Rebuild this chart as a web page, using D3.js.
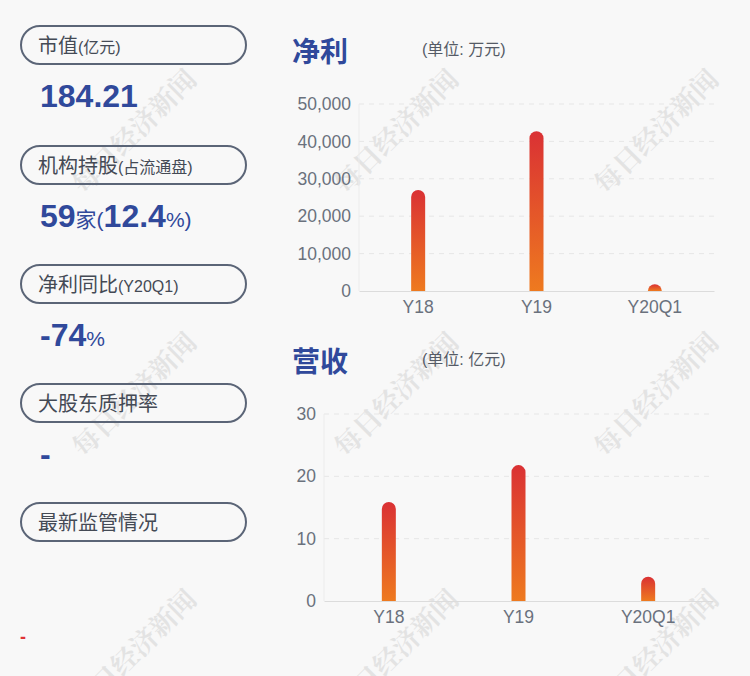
<!DOCTYPE html>
<html lang="zh">
<head>
<meta charset="utf-8">
<title>净利 / 营收</title>
<script src="https://cdn.jsdelivr.net/npm/d3@7"></script>
<style>
  body { margin: 0; background: #f8f8f8; }
  svg { display: block; font-family: "Liberation Sans", Arial, "Noto Sans CJK SC", sans-serif; }
</style>
</head>
<body>
<script>
  var w = 750, h = 676;

  // data
  var categories = ["Y18", "Y19", "Y20Q1"];
  var profitValues = [27000, 42700, 1800];      // 净利, 万元
  var profitTicks = [0, 10000, 20000, 30000, 40000, 50000];
  var revenueValues = [15.9, 21.8, 3.9];        // 营收, 亿元
  var revenueTicks = [0, 10, 20, 30];

  var pillLabels = [
    ["市值", "(亿元)"],
    ["机构持股", "(占流通盘)"],
    ["净利同比", "(Y20Q1)"],
    ["大股东质押率", ""],
    ["最新监管情况", ""]
  ];

  var blue = "#30499b";
  var svg = d3.select("body").append("svg")
    .attr("width", w).attr("height", h);

  svg.append("rect").attr("width", w).attr("height", h).attr("fill", "#f8f8f8");

  var defs = svg.append("defs");
  var grad = defs.append("linearGradient")
    .attr("id", "barGrad").attr("x1", 0).attr("y1", 0).attr("x2", 0).attr("y2", 1);
  grad.append("stop").attr("offset", "0%").attr("stop-color", "#da3134");
  grad.append("stop").attr("offset", "100%").attr("stop-color", "#ee7a1f");

  // watermark layer (bottom row runs off the edge, as in the original)
  var wm = svg.append("g");
  [130, 393, 650].forEach(function(cy) {
    [133, 395, 655].forEach(function(cx) {
      wm.append("text")
        .attr("transform", "translate(" + cx + "," + cy + ") rotate(-45)")
        .attr("text-anchor", "middle")
        .attr("dominant-baseline", "central")
        .attr("font-size", 27)
        .attr("font-weight", "bold")
        .attr("font-family", "'Noto Serif CJK SC','Noto Sans CJK SC',sans-serif")
        .attr("fill", "#000")
        .attr("opacity", 0.08)
        .text("每日经济新闻");
    });
  });

  // left pills
  var pillTop = [26, 146, 265, 384, 503];
  pillLabels.forEach(function(p, i) {
    var g = svg.append("g");
    g.append("rect")
      .attr("x", 21).attr("y", pillTop[i])
      .attr("width", 225).attr("height", 38)
      .attr("rx", 19).attr("ry", 19)
      .attr("fill", "none").attr("stroke", "#5b6577").attr("stroke-width", 2);
    var t = g.append("text")
      .attr("x", 38).attr("y", pillTop[i] + 27)
      .attr("fill", "#444a55");
    t.append("tspan").attr("font-size", 20).text(p[0]);
    if (p[1]) t.append("tspan").attr("font-size", 16).text(p[1]);
  });

  // values under pills
  function valueText(y, parts) {
    var t = svg.append("text").attr("x", 40).attr("y", y).attr("fill", blue);
    parts.forEach(function(p) {
      t.append("tspan")
        .attr("font-size", p[1])
        .attr("font-weight", p[2] ? "bold" : "normal")
        .text(p[0]);
    });
  }
  valueText(107, [["184.21", 32, true]]);
  valueText(227, [["59", 32, true], ["家", 21, false], ["(", 21, false], ["12.4", 32, true], ["%)", 21, false]]);
  valueText(346, [["-74", 32, true], ["%", 21, false]]);
  valueText(465, [["-", 32, true]]);

  svg.append("text")
    .attr("x", 20).attr("y", 643)
    .attr("fill", "#e03236").attr("font-size", 18).attr("font-weight", "bold")
    .text("-");

  // bar with rounded top
  function barPath(x, y0, y1, bw) {
    var r = Math.min(bw / 2, y0 - y1);
    var hgt = y0 - y1;
    if (hgt <= 0) return "";
    return "M" + x + "," + y0 +
      "V" + (y1 + r) +
      "A" + (bw / 2) + "," + r + " 0 0 1 " + (x + bw) + "," + (y1 + r) +
      "V" + y0 + "Z";
  }

  function drawChart(opt) {
    var g = svg.append("g");
    var x = d3.scaleBand().domain(categories).range([opt.left, opt.right]);
    var y = d3.scaleLinear().domain([0, d3.max(opt.ticks)]).range([opt.bottom, opt.top]);

    g.append("text")
      .attr("x", 292).attr("y", opt.titleY)
      .attr("fill", blue).attr("font-size", 28).attr("font-weight", "bold")
      .attr("font-family", "'Noto Sans CJK SC',sans-serif")
      .text(opt.title);
    g.append("text")
      .attr("x", 422).attr("y", opt.titleY - 7)
      .attr("fill", "#555b66").attr("font-size", 16)
      .text(opt.unit);

    // grid
    g.selectAll(".grid").data(opt.ticks.filter(function(d) { return d > 0; }))
      .enter().append("line")
      .attr("x1", opt.left).attr("x2", opt.right)
      .attr("y1", function(d) { return y(d); }).attr("y2", function(d) { return y(d); })
      .attr("stroke", "#e6e6e6").attr("stroke-dasharray", "5,5");

    g.append("line")
      .attr("x1", opt.left).attr("x2", opt.left)
      .attr("y1", opt.top).attr("y2", opt.bottom)
      .attr("stroke", "#ececec");

    var yAxis = d3.axisLeft(y).tickValues(opt.ticks).tickSize(0).tickPadding(8)
      .tickFormat(d3.format(","));
    var ya = g.append("g").attr("transform", "translate(" + opt.left + ",0)").call(yAxis);
    ya.select(".domain").remove();
    ya.selectAll("text")
      .attr("font-size", 17.5).attr("fill", "#6a717d")
      .attr("font-family", "'Liberation Sans',Arial,sans-serif");

    var xAxis = d3.axisBottom(x).tickSize(0).tickPadding(10);
    var xa = g.append("g").attr("transform", "translate(0," + opt.bottom + ")").call(xAxis);
    xa.select(".domain").attr("stroke", "#dcdcdc");
    xa.selectAll("text")
      .attr("font-size", 17.5).attr("fill", "#6a717d")
      .attr("font-family", "'Liberation Sans',Arial,sans-serif");

    var bw = 14;
    g.selectAll(".bar").data(opt.values).enter().append("path")
      .attr("d", function(d, i) {
        var cx = x(categories[i]) + x.bandwidth() / 2;
        return barPath(cx - bw / 2, y(0), y(d), bw);
      })
      .attr("fill", "url(#barGrad)");
  }

  drawChart({
    title: "净利", unit: "(单位: 万元)", titleY: 62,
    values: profitValues, ticks: profitTicks,
    left: 359, right: 714, top: 104, bottom: 291
  });

  drawChart({
    title: "营收", unit: "(单位: 亿元)", titleY: 372,
    values: revenueValues, ticks: revenueTicks,
    left: 324, right: 713, top: 414, bottom: 601
  });
</script>
</body>
</html>
